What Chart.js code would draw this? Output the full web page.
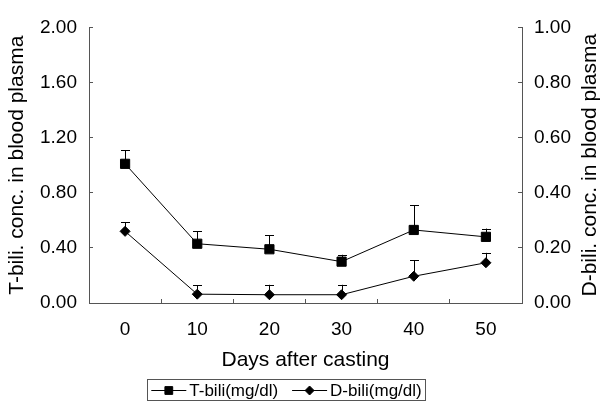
<!DOCTYPE html>
<html>
<head>
<meta charset="utf-8">
<script src="https://cdn.jsdelivr.net/npm/chart.js@4.4.0/dist/chart.umd.min.js"></script>
<style>
  html, body { margin: 0; padding: 0; background: #fff; }
  #wrap { width: 603px; height: 410px; }
</style>
</head>
<body>
<div id="wrap"><canvas id="chart"></canvas></div>
<script>
// values
const days = ['0', '10', '20', '30', '40', '50'];
const tBili = [1.01, 0.43, 0.39, 0.30, 0.53, 0.48];
const tBiliErr = [0.10, 0.09, 0.10, 0.05, 0.18, 0.06];
const dBili = [0.26, 0.032, 0.03, 0.03, 0.097, 0.146];
const dBiliErr = [0.033, 0.033, 0.036, 0.036, 0.058, 0.036];
const leftTicks = [0, 0.4, 0.8, 1.2, 1.6, 2.0];
const rightTicks = [0, 0.2, 0.4, 0.6, 0.8, 1.0];

const FONT = '"Liberation Sans", Arial, sans-serif';
const AXIS = '#555';
Chart.defaults.font.family = FONT;
Chart.defaults.color = '#000';

// upper error bars with caps
const errorBars = {
  id: 'errorBars',
  afterDatasetsDraw(chart) {
    const ctx = chart.ctx;
    ctx.save();
    ctx.strokeStyle = '#000';
    ctx.lineWidth = 1;
    chart.data.datasets.forEach((ds, di) => {
      const meta = chart.getDatasetMeta(di);
      const scale = chart.scales[ds.yAxisID];
      meta.data.forEach((pt, i) => {
        const top = scale.getPixelForValue(ds.data[i] + ds.errors[i]);
        const x = Math.round(pt.x) + 0.5;
        ctx.beginPath();
        ctx.moveTo(x, pt.y);
        ctx.lineTo(x, top);
        ctx.moveTo(x - 4.5, Math.round(top) + 0.5);
        ctx.lineTo(x + 4.5, Math.round(top) + 0.5);
        ctx.stroke();
      });
    });
    ctx.restore();
  }
};

// right axis title (reads bottom to top) and boxed legend
const extras = {
  id: 'extras',
  afterDraw(chart) {
    const ctx = chart.ctx;
    const area = chart.chartArea;
    ctx.save();
    ctx.fillStyle = '#000';
    ctx.font = '21px ' + FONT;
    ctx.textAlign = 'center';
    ctx.textBaseline = 'middle';
    ctx.translate(590, (area.top + area.bottom) / 2);
    ctx.rotate(-Math.PI / 2);
    ctx.fillText('D-bili. conc. in blood plasma', 0, 0);
    ctx.restore();

    ctx.save();
    ctx.font = '17px ' + FONT;
    ctx.textBaseline = 'middle';
    const cy = 390, lineLen = 35, gapText = 3, gapItem = 14, padX = 4;
    const items = chart.data.datasets.map(ds => ({
      ds, w: lineLen + gapText + ctx.measureText(ds.label).width
    }));
    const total = items.reduce((s, it) => s + it.w, 0) + gapItem * (items.length - 1) + padX * 2;
    const left = 286.5 - total / 2;
    ctx.strokeStyle = AXIS;
    ctx.lineWidth = 1;
    ctx.strokeRect(Math.round(left) + 0.5, 379.5, Math.round(total), 21);
    let x = left + padX;
    items.forEach(it => {
      ctx.strokeStyle = '#000';
      ctx.beginPath();
      ctx.moveTo(x, cy + 0.5);
      ctx.lineTo(x + lineLen, cy + 0.5);
      ctx.stroke();
      ctx.fillStyle = '#000';
      Chart.helpers.drawPoint(ctx, {
        pointStyle: it.ds.pointStyle,
        radius: it.ds.legendRadius,
        borderWidth: 1
      }, x + lineLen / 2, cy + 0.5);
      ctx.fillStyle = '#000';
      ctx.fillText(it.ds.label, x + lineLen + gapText, cy + 1);
      x += it.w + gapItem;
    });
    ctx.restore();
  }
};

new Chart(document.getElementById('chart'), {
  type: 'line',
  data: {
    labels: days,
    datasets: [
      {
        label: 'T-bili(mg/dl)', data: tBili, errors: tBiliErr, yAxisID: 'y',
        borderColor: '#000', borderWidth: 1, backgroundColor: '#000',
        pointStyle: 'rect', pointRadius: 6.5, pointBorderWidth: 1, legendRadius: 5.5,
        tension: 0
      },
      {
        label: 'D-bili(mg/dl)', data: dBili, errors: dBiliErr, yAxisID: 'y2',
        borderColor: '#000', borderWidth: 1, backgroundColor: '#000',
        pointStyle: 'rectRot', pointRadius: 5, pointBorderWidth: 1, legendRadius: 4.5,
        tension: 0
      }
    ]
  },
  options: {
    responsive: true,
    maintainAspectRatio: false,
    animation: false,
    layout: { padding: { top: 14, bottom: 0, left: 0, right: 0 } },
    plugins: { legend: { display: false }, tooltip: { enabled: false } },
    scales: {
      x: {
        type: 'category',
        offset: true,
        afterFit: s => { s.height = 107; },
        border: { color: AXIS, width: 1 },
        grid: { offset: true, drawOnChartArea: false, tickLength: -4, color: AXIS },
        ticks: { padding: 19, font: { size: 19 }, color: '#000', maxRotation: 0 },
        title: { display: true, text: 'Days after casting', font: { size: 21 }, color: '#000', padding: { top: 0, bottom: 37 } }
      },
      y: {
        position: 'left', min: 0, max: 2,
        afterBuildTicks: s => { s.ticks = leftTicks.map(v => ({ value: v })); },
        afterFit: s => { s.width = 89; },
        border: { color: AXIS, width: 1 },
        grid: { drawOnChartArea: false, tickLength: -4, color: AXIS },
        ticks: { padding: 16, font: { size: 19 }, color: '#000', callback: v => v.toFixed(2) },
        title: { display: true, text: 'T-bili. conc. in blood plasma', font: { size: 21 }, color: '#000', padding: { top: 5, bottom: 0 } }
      },
      y2: {
        position: 'right', min: 0, max: 1,
        afterBuildTicks: s => { s.ticks = rightTicks.map(v => ({ value: v })); },
        afterFit: s => { s.width = 81; },
        border: { color: AXIS, width: 1 },
        grid: { drawOnChartArea: false, tickLength: -4, color: AXIS },
        ticks: { padding: 16, font: { size: 19 }, color: '#000', callback: v => v.toFixed(2) }
      }
    }
  },
  plugins: [errorBars, extras]
});
</script>
</body>
</html>
